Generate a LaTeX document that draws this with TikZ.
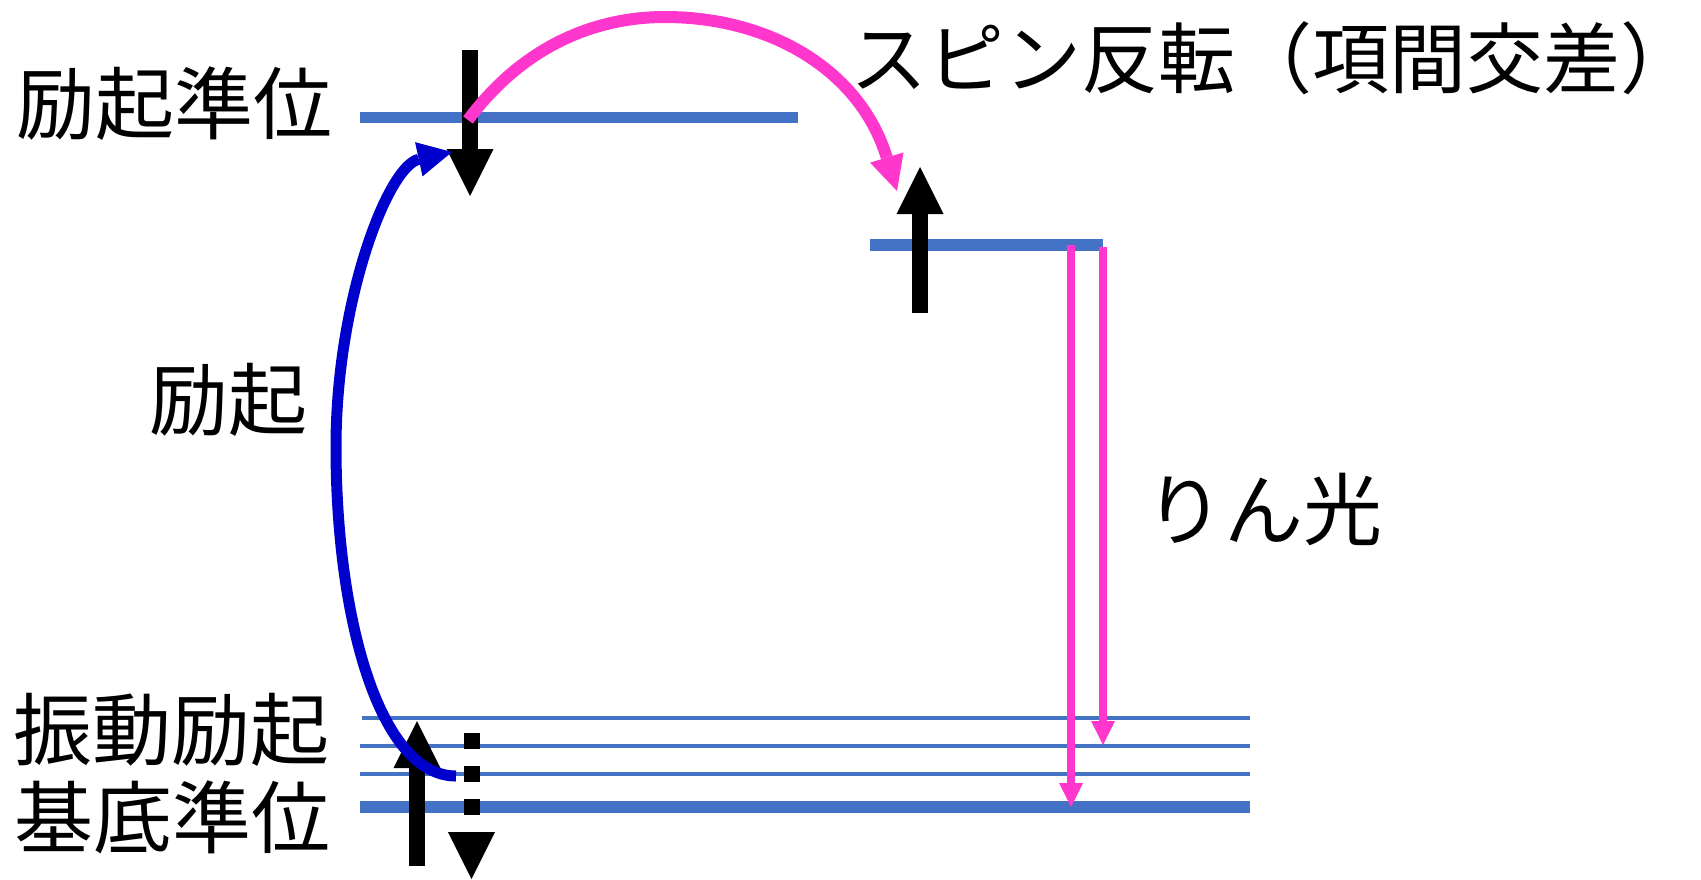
\documentclass[tikz,border=0pt]{standalone}
\usepackage{fontspec}
\newfontfamily\jp{Noto Sans CJK JP}
\usetikzlibrary{arrows.meta}
\definecolor{lvl}{HTML}{4472C4}
\definecolor{pinkc}{HTML}{FF37CC}
\definecolor{bluea}{HTML}{0000CC}
\tikzset{
  lvlthick/.style={draw=lvl, line width=5.75pt},
  lvlthin/.style={draw=lvl, line width=2pt},
  spinarrow/.style={draw=black, line width=8pt, -{Triangle[length=23.5pt,width=23.5pt,line width=0pt]}},
  spindash/.style={spinarrow, dash pattern=on 8pt off 8.5pt},
  transarrow/.style={draw=pinkc, line width=4pt, -{Triangle[length=12pt,width=12pt,line width=0pt]}},
  iscarrow/.style={draw=pinkc, line width=6pt, -{Triangle[length=17.5pt,width=17.5pt,line width=0pt]}},
  excarrow/.style={draw=bluea, line width=5.5pt, -{Triangle[length=17pt,width=17.5pt,line width=0pt]}},
  lbl/.style={font=\jp\fontsize{39.5}{47}\selectfont, inner sep=0pt, anchor=west}
}
\begin{document}
\begin{tikzpicture}[x=0.5pt,y=-0.5pt]
\useasboundingbox (0,0) rectangle (1701,879);
% level end points
\coordinate (exL) at (360,117.5);
\coordinate (exR) at (798,117.5);
\coordinate (trL) at (870,245);
\coordinate (trR) at (1103,245);
\coordinate (v1L) at (362,718);
\coordinate (v1R) at (1250,718);
\coordinate (v2L) at (360,746);
\coordinate (v2R) at (1250,746);
\coordinate (v3L) at (360,774);
\coordinate (v3R) at (1250,774);
\coordinate (gL) at (360,807);
\coordinate (gR) at (1250,807);
% levels
\draw[lvlthick] (exL) -- (exR);
\draw[lvlthick] (trL) -- (trR);
\draw[lvlthin] (v1L) -- (v1R);
\draw[lvlthin] (v2L) -- (v2R);
\draw[lvlthin] (v3L) -- (v3R);
\draw[lvlthick] (gL) -- (gR);
% spin arrows
\coordinate (s1a) at (470,50);
\coordinate (s1b) at (470,196);
\coordinate (s2a) at (920,313);
\coordinate (s2b) at (920,167);
\coordinate (s3a) at (417,866);
\coordinate (s3b) at (417,721);
\coordinate (s4a) at (471.5,733);
\coordinate (s4b) at (471.5,879);
\draw[spinarrow] (s1a) -- (s1b);
\draw[spinarrow] (s2a) -- (s2b);
\draw[spinarrow] (s3a) -- (s3b);
\draw[spindash] (s4a) -- (s4b);
% phosphorescence
\coordinate (p1a) at (1071,245);
\coordinate (p1b) at (1071,807);
\coordinate (p2a) at (1103,247);
\coordinate (p2b) at (1103,745);
\draw[transarrow] (p1a) -- (p1b);
\draw[transarrow] (p2a) -- (p2b);
% excitation
\coordinate (eA) at (456,776);
\coordinate (eM) at (336,447);
\coordinate (eB) at (452,152);
\draw[excarrow] (eA) .. controls (380,776) and (336,620) .. (eM)
  .. controls (336,300) and (388,166) .. (eB);
% intersystem crossing
\coordinate (iA) at (468,120);
\coordinate (iM) at (665,17);
\coordinate (iB) at (897,191);
\draw[iscarrow] (iA) .. controls (520,50) and (590,17) .. (iM)
  .. controls (770,17) and (860,70) .. (iB);
% labels
\node[lbl] (tExc) at (16,104) {励起準位};
\node[lbl, font=\jp\fontsize{38.5}{46}\selectfont] (tIsc) at (850,58) {スピン反転（項間交差）};
\node[lbl] (tEx) at (149,400) {励起};
\node[lbl] (tPh) at (1145,509) {りん光};
\node[lbl] (tVib) at (13,730) {振動励起};
\node[lbl] (tGnd) at (14,817) {基底準位};
\end{tikzpicture}
\end{document}
